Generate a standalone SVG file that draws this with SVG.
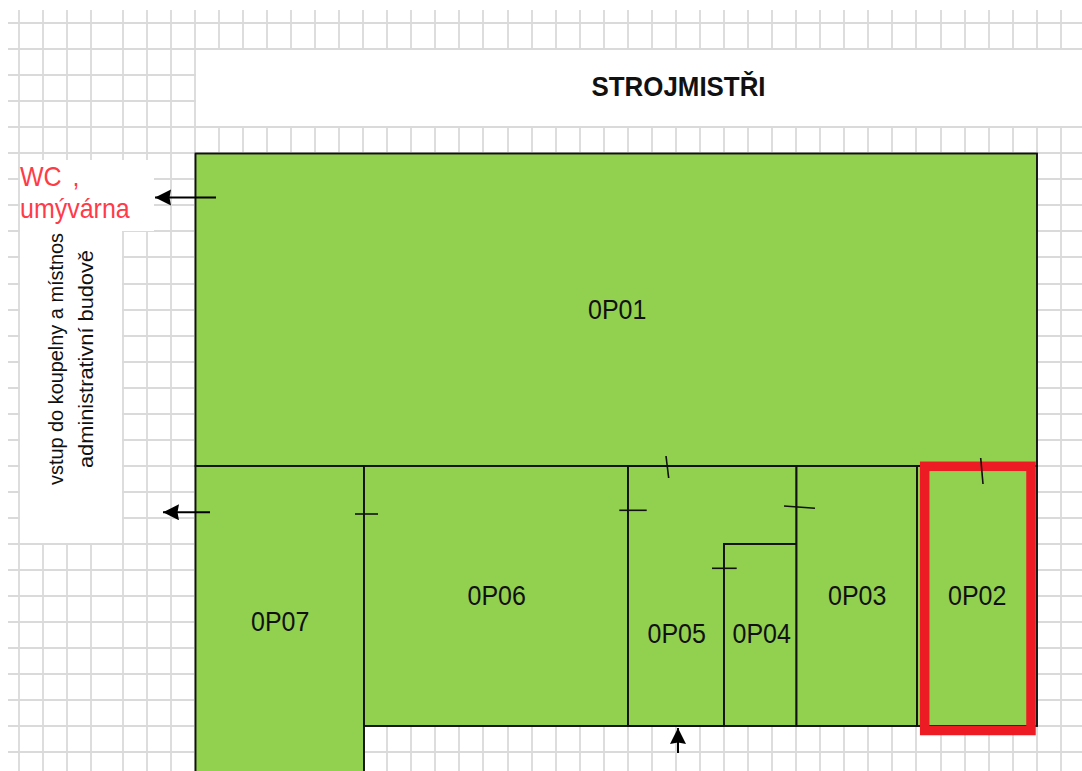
<svg xmlns="http://www.w3.org/2000/svg" width="1082" height="771" viewBox="0 0 1082 771">
<style>
.grid{stroke:#dadada;stroke-width:1.8;fill:none}
.blank{fill:#fff;stroke:none}
.room{fill:#92d050;stroke:#111;stroke-width:1.9}
.lbl{font-family:"Liberation Sans",Arial,sans-serif;font-size:25px;fill:#111}
.title{font-family:"Liberation Sans",Arial,sans-serif;font-size:25.9px;font-weight:bold;fill:#111}
.note{font-family:"Liberation Sans",Arial,sans-serif;font-size:25px;fill:#ff3b4a}
.side{font-family:"Liberation Sans",Arial,sans-serif;font-size:21px;fill:#111}
.tick{stroke:#111;stroke-width:1.6;fill:none}
.arrow{stroke:#000;stroke-width:2;fill:none;marker-end:url(#head)}
</style>
<defs>
<marker id="head" markerUnits="userSpaceOnUse" markerWidth="18" markerHeight="18" refX="16" refY="8" orient="auto">
<path d="M0,0 L16,8 L0,16 L1.500,8 Z" fill="#000"/>
</marker>
</defs>
<rect width="1082" height="771" fill="#fff"/>
<g id="grid" class="grid">
<path d="M19 10V771M43 10V771M67 10V771M91 10V771M123 10V771M147 10V771M171 10V771M195 10V771M219 10V771M243 10V771M267 10V771M291 10V771M315 10V771M339 10V771M363 10V771M387 10V771M411 10V771M435 10V771M459 10V771M483 10V771M508 10V771M532 10V771M556 10V771M580 10V771M604 10V771M628 10V771M652 10V771M676 10V771M700 10V771M724 10V771M748 10V771M772 10V771M796 10V771M820 10V771M844 10V771M868 10V771M892 10V771M916 10V771M941 10V771M965 10V771M989 10V771M1013 10V771M1037 10V771M1061 10V771"/>
<path d="M8 23H1082M8 49H1082M8 75H1082M8 101H1082M8 127H1082M8 153H1082M8 179H1082M8 205H1082M8 231H1082M8 257H1082M8 284H1082M8 310H1082M8 336H1082M8 362H1082M8 388H1082M8 414H1082M8 440H1082M8 466H1082M8 492H1082M8 518H1082M8 544H1082M8 570H1082M8 596H1082M8 622H1082M8 648H1082M8 674H1082M8 700H1082M8 726H1082M8 752H1082"/>
</g>
<g id="blanks">
<rect class="blank" x="196" y="50" width="886" height="76"/>
<rect class="blank" x="20" y="160" width="134" height="71"/>
<rect class="blank" x="20" y="231" width="102" height="312"/>
</g>
<g id="room-0P01"><rect class="room" x="195.500" y="153.500" width="841.500" height="312.500"/><text class="lbl" transform="translate(588,318.500) scale(1,1.09)">0P01</text></g>
<g id="room-0P07"><rect class="room" x="195.500" y="466" width="168.500" height="320"/><text class="lbl" transform="translate(251,631) scale(1,1.09)">0P07</text></g>
<g id="room-0P06"><rect class="room" x="364" y="466" width="264" height="260"/><text class="lbl" transform="translate(467.500,605) scale(1,1.09)">0P06</text></g>
<g id="room-0P05"><path class="room" d="M628 466H796.500V544H724V726H628Z"/><text class="lbl" transform="translate(647.500,643) scale(1,1.09)">0P05</text></g>
<g id="room-0P04"><rect class="room" x="724" y="544" width="72.500" height="182"/><text class="lbl" transform="translate(732.500,643) scale(1,1.09)">0P04</text></g>
<g id="room-0P03"><rect class="room" x="796.500" y="466" width="120.500" height="260"/><text class="lbl" transform="translate(828,605) scale(1,1.09)">0P03</text></g>
<g id="room-0P02"><rect class="room" x="917" y="466" width="120" height="260"/><rect x="924.700" y="466.300" width="106.300" height="264.200" fill="none" stroke="#ed1c24" stroke-width="9.500"/><text class="lbl" transform="translate(948,605) scale(1,1.09)">0P02</text></g>
<g id="title"><text class="title" transform="translate(591.500,96) scale(1,1.05)">STROJMISTŘI</text></g>
<g id="note-wc"><text class="note" transform="translate(20,186) scale(1,1.09)">WC <tspan dx="4">,</tspan></text><text class="note" transform="translate(20,218) scale(1,1.09)">umývárna</text></g>
<g id="note-vstup"><text class="side" transform="translate(62.500,485) rotate(-90)" textLength="252" lengthAdjust="spacingAndGlyphs">vstup do koupelny a místnos</text><text class="side" transform="translate(92.500,468) rotate(-90)" textLength="218" lengthAdjust="spacingAndGlyphs">administrativní budově</text></g>
<g id="connectors">
<path class="tick" d="M666 456L668.700 478"/>
<path class="tick" d="M980.700 458L983 484"/>
<path class="tick" d="M619.300 510.300H646.700"/>
<path class="tick" d="M784 506L815 508.300"/>
<path class="tick" d="M712 568.300H736.700"/>
<path class="tick" d="M355 514H378"/>
<path class="arrow" d="M216 197.500H155"/>
<path class="arrow" d="M210 512.300H163"/>
<path class="arrow" d="M678 753V728"/>
</g>
</svg>
